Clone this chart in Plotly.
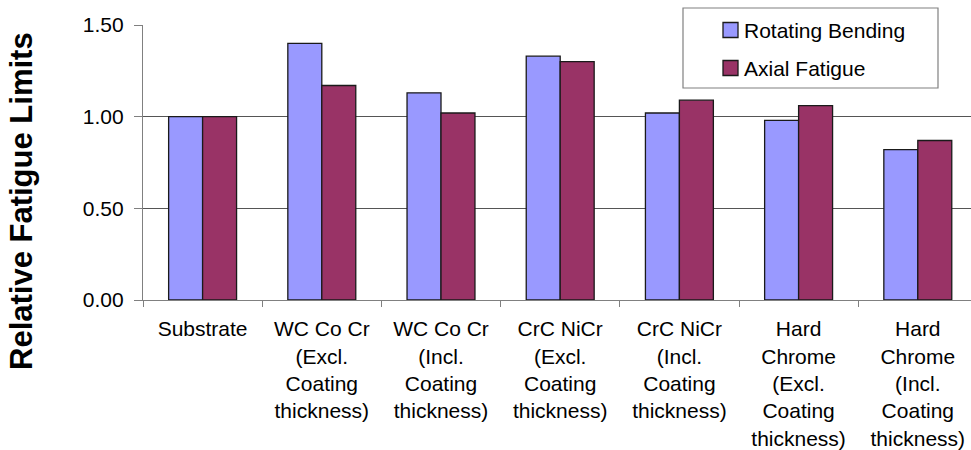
import plotly.graph_objects as go

# Categories (multi-line labels) and relative fatigue limits per test type
categories = [
    "Substrate",
    "WC Co Cr<br>(Excl.<br>Coating<br>thickness)",
    "WC Co Cr<br>(Incl.<br>Coating<br>thickness)",
    "CrC NiCr<br>(Excl.<br>Coating<br>thickness)",
    "CrC NiCr<br>(Incl.<br>Coating<br>thickness)",
    "Hard<br>Chrome<br>(Excl.<br>Coating<br>thickness)",
    "Hard<br>Chrome<br>(Incl.<br>Coating<br>thickness)",
]
series_names = ["Rotating Bending", "Axial Fatigue"]
rotating_bending = [1.00, 1.40, 1.13, 1.33, 1.02, 0.98, 0.82]
axial_fatigue = [1.00, 1.17, 1.02, 1.30, 1.09, 1.06, 0.87]
y_tick_values = [0.0, 0.5, 1.0, 1.5]
y_tick_labels = ["0.00", "0.50", "1.00", "1.50"]

colors = ["#9999FF", "#993366"]
FONT = "Liberation Sans, Arial, sans-serif"

W, H = 971, 450
M_L, M_R, M_T, M_B = 143, 0, 25, 150
plot_w = W - M_L - M_R
plot_h = H - M_T - M_B


def px_x(p):
    return (p - M_L) / plot_w


def px_y(p):
    return (H - M_B - p) / plot_h


fig = go.Figure()
for name, vals, col in zip(series_names, [rotating_bending, axial_fatigue], colors):
    fig.add_trace(go.Bar(
        x=categories, y=vals, name=name,
        marker=dict(color=col, line=dict(color="#1a1a1a", width=1.3)),
        showlegend=False,
    ))

# Boxed legend drawn on top of the plot
shapes = [dict(type="rect", xref="paper", yref="paper",
               x0=px_x(683), x1=px_x(938), y0=px_y(88), y1=px_y(8),
               fillcolor="white", line=dict(color="#808080", width=1.2),
               layer="above")]
annotations = []
for i, (name, col) in enumerate(zip(series_names, colors)):
    cy = 30 + i * 38
    shapes.append(dict(type="rect", xref="paper", yref="paper",
                       x0=px_x(723), x1=px_x(738), y0=px_y(cy + 7.5), y1=px_y(cy - 7.5),
                       fillcolor=col, line=dict(color="#1a1a1a", width=1.3),
                       layer="above"))
    annotations.append(dict(text=name, xref="paper", yref="paper",
                            x=px_x(742), y=px_y(cy), xanchor="left", yanchor="middle",
                            showarrow=False, font=dict(family=FONT, size=21, color="black")))

annotations.append(dict(text="<b>Relative Fatigue Limits</b>", xref="paper", yref="paper",
                        x=px_x(21.5), y=px_y(201.5), xanchor="center", yanchor="middle",
                        textangle=-90, showarrow=False,
                        font=dict(family=FONT, size=31, color="black")))

fig.update_layout(
    width=W, height=H,
    margin=dict(l=M_L, r=M_R, t=M_T, b=M_B),
    paper_bgcolor="white", plot_bgcolor="white",
    barmode="group", bargap=0.43, bargroupgap=0,
    font=dict(family=FONT, size=21, color="black"),
    shapes=shapes, annotations=annotations,
    xaxis=dict(
        range=[-0.5, -0.5 + plot_w / 119.2],
        tickson="boundaries", ticks="outside", ticklen=6, tickcolor="#808080",
        showline=True, linecolor="#808080", linewidth=1.2,
        showgrid=False, tickangle=0, ticklabelstandoff=10,
        tickfont=dict(family=FONT, size=21, color="black"),
    ),
    yaxis=dict(
        range=[0, 1.5], tickvals=y_tick_values, ticktext=y_tick_labels,
        ticks="outside", ticklen=8, tickcolor="#808080",
        showline=True, linecolor="#808080", linewidth=1.2,
        showgrid=True, gridcolor="#555555", gridwidth=1,
        zeroline=False, ticklabelstandoff=6,
        tickfont=dict(family=FONT, size=21, color="black"),
    ),
)

fig.write_html("out.html")
